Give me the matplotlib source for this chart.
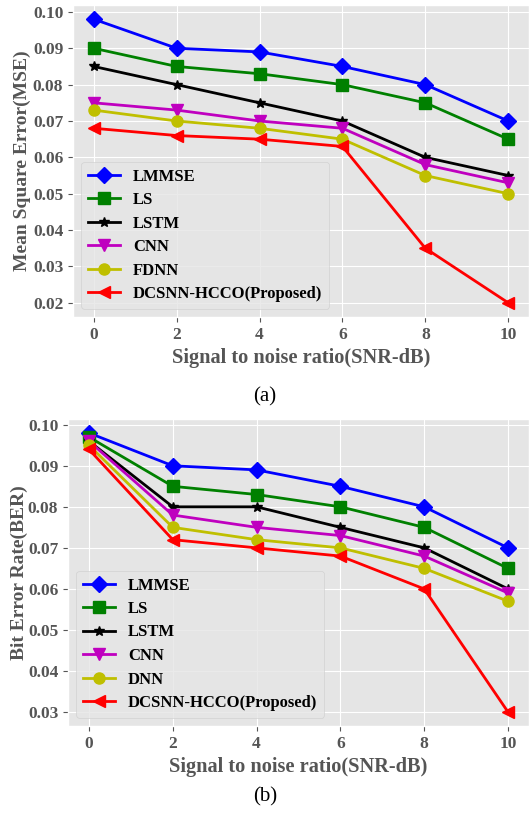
import matplotlib
matplotlib.use("Agg")
import matplotlib.pyplot as plt

plt.style.use("ggplot")
plt.rcParams['font.family'] = ['Liberation Serif', 'DejaVu Serif']

snr = [0, 2, 4, 6, 8, 10]
xticks = [0, 2, 4, 6, 8, 10]

mse_lmmse = [0.098, 0.090, 0.089, 0.085, 0.080, 0.070]
mse_ls = [0.090, 0.085, 0.083, 0.080, 0.075, 0.065]
mse_lstm = [0.085, 0.080, 0.075, 0.070, 0.060, 0.055]
mse_cnn = [0.075, 0.073, 0.070, 0.068, 0.058, 0.053]
mse_fdnn = [0.073, 0.070, 0.068, 0.065, 0.055, 0.050]
mse_prop = [0.068, 0.066, 0.065, 0.063, 0.035, 0.020]

ber_lmmse = [0.098, 0.090, 0.089, 0.085, 0.080, 0.070]
ber_ls = [0.097, 0.085, 0.083, 0.080, 0.075, 0.065]
ber_lstm = [0.096, 0.080, 0.080, 0.075, 0.070, 0.060]
ber_cnn = [0.096, 0.078, 0.075, 0.073, 0.068, 0.059]
ber_dnn = [0.095, 0.075, 0.072, 0.070, 0.065, 0.057]
ber_prop = [0.094, 0.072, 0.070, 0.068, 0.060, 0.030]

labels_a = ["LMMSE", "LS", "LSTM", "CNN", "FDNN", "DCSNN-HCCO(Proposed)"]
labels_b = ["LMMSE", "LS", "LSTM", "CNN", "DNN", "DCSNN-HCCO(Proposed)"]
colors = ["blue", "green", "black", "m", "y", "red"]
markers = ["D", "s", "*", "v", "o", "<"]
msizes = [8, 8, 7, 8, 8, 8]

fig = plt.figure(figsize=(5.30, 8.18), dpi=100)
ax1 = fig.add_axes([73/530, 1-317/818, (529-73)/530, 312/818])
ax2 = fig.add_axes([68/530, 1-726/818, (529-68)/530, 307/818])

tick_color = "#555555"

def draw(ax, series, labels, ylabel, yticks, ypad):
    for s, lab, c, m, ms in zip(series, labels, colors, markers, msizes):
        ax.plot(snr, s, color=c, marker=m, markersize=ms, linewidth=2, label=lab)
    ax.set_xticks(xticks)
    ax.set_yticks(yticks)
    ax.set_yticklabels([f"{v:.2f}" for v in yticks])
    for lab in ax.get_xticklabels() + ax.get_yticklabels():
        lab.set_fontweight("bold")
        lab.set_fontsize(12.5)
        lab.set_color(tick_color)
    ax.set_xlabel("Signal to noise ratio(SNR-dB)", fontsize=14.7, fontweight="bold", color=tick_color, labelpad=4)
    ax.set_ylabel(ylabel, fontsize=14, fontweight="bold", color=tick_color, labelpad=ypad)
    leg = ax.legend(loc="lower left", prop={"weight": "bold", "size": 12}, facecolor="#e5e5e5",
                    framealpha=0.8, edgecolor="#cccccc", handlelength=1.9, labelspacing=0.45)
    for t in leg.get_texts():
        t.set_color("black")

draw(ax1, [mse_lmmse, mse_ls, mse_lstm, mse_cnn, mse_fdnn, mse_prop], labels_a,
     "Mean Square Error(MSE)", [0.02, 0.03, 0.04, 0.05, 0.06, 0.07, 0.08, 0.09, 0.10], 1)
draw(ax2, [ber_lmmse, ber_ls, ber_lstm, ber_cnn, ber_dnn, ber_prop], labels_b,
     "Bit Error Rate(BER)", [0.03, 0.04, 0.05, 0.06, 0.07, 0.08, 0.09, 0.10], 0)

fig.text(0.5, 1-397/818, "(a)", ha="center", va="center", fontsize=15)
fig.text(0.5, 1-797/818, "(b)", ha="center", va="center", fontsize=15)

fig.savefig("out.png", dpi=100)
